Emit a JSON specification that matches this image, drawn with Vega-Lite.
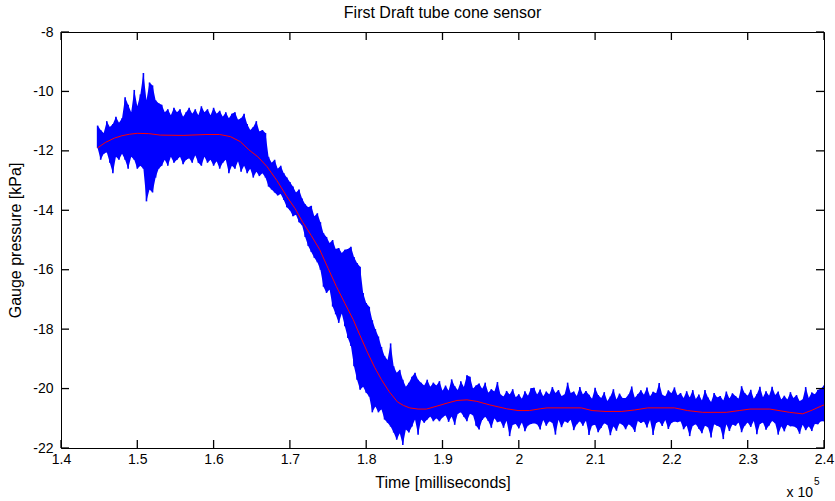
{
  "$schema": "https://vega.github.io/schema/vega-lite/v6.json",
  "width": 763,
  "height": 416,
  "autosize": {"type": "none"},
  "padding": {"left": 61, "top": 32, "right": 11, "bottom": 53},
  "background": "white",
  "config": {
    "view": {"stroke": null},
    "font": "Liberation Sans",
    "axis": {
      "grid": false,
      "ticks": false,
      "labelFont": "Liberation Sans",
      "labelFontSize": 14,
      "labelColor": "black",
      "domainColor": "black",
      "domainWidth": 1,
      "titleFont": "Liberation Sans",
      "titleFontSize": 16,
      "titleFontWeight": "normal",
      "titleColor": "black"
    }
  },
  "title": {"text": "First Draft tube cone sensor", "font": "Liberation Sans", "fontSize": 16, "fontWeight": "normal", "color": "black", "offset": 4, "anchor": "middle"},
  "datasets": {
    "xticks": [{"v":1.4},{"v":1.5},{"v":1.6},{"v":1.7},{"v":1.8},{"v":1.9},{"v":2.0},{"v":2.1},{"v":2.2},{"v":2.3},{"v":2.4}],
    "yticks": [{"v":-22},{"v":-20},{"v":-18},{"v":-16},{"v":-14},{"v":-12},{"v":-10},{"v":-8}],
    "signal": [
      {"t":1.448,"lo":-11.9,"hi":-11.15},{"t":1.452,"lo":-12.3,"hi":-11.3},{"t":1.456,"lo":-12.1,"hi":-11.4},{"t":1.46,"lo":-12.05,"hi":-11.0},
      {"t":1.464,"lo":-12.4,"hi":-11.2},{"t":1.468,"lo":-12.75,"hi":-11.1},{"t":1.472,"lo":-12.2,"hi":-10.85},{"t":1.476,"lo":-12.3,"hi":-11.05},
      {"t":1.48,"lo":-12.1,"hi":-10.9},{"t":1.484,"lo":-12.3,"hi":-10.2},{"t":1.488,"lo":-12.6,"hi":-10.45},{"t":1.492,"lo":-12.2,"hi":-10.7},
      {"t":1.496,"lo":-12.3,"hi":-9.95},{"t":1.5,"lo":-12.6,"hi":-10.5},{"t":1.504,"lo":-12.5,"hi":-10.1},{"t":1.508,"lo":-12.6,"hi":-9.38},
      {"t":1.512,"lo":-13.7,"hi":-10.3},{"t":1.516,"lo":-13.3,"hi":-9.7},{"t":1.52,"lo":-13.4,"hi":-9.8},{"t":1.524,"lo":-12.9,"hi":-10.3},
      {"t":1.528,"lo":-12.6,"hi":-10.4},{"t":1.532,"lo":-12.5,"hi":-10.45},{"t":1.536,"lo":-12.3,"hi":-10.7},{"t":1.54,"lo":-12.5,"hi":-10.6},
      {"t":1.544,"lo":-12.2,"hi":-10.8},{"t":1.548,"lo":-12.4,"hi":-10.55},{"t":1.552,"lo":-12.3,"hi":-10.7},{"t":1.556,"lo":-12.2,"hi":-10.6},
      {"t":1.56,"lo":-12.45,"hi":-10.85},{"t":1.564,"lo":-12.3,"hi":-10.7},{"t":1.568,"lo":-12.25,"hi":-10.55},{"t":1.572,"lo":-12.4,"hi":-10.75},
      {"t":1.576,"lo":-12.15,"hi":-10.6},{"t":1.58,"lo":-12.4,"hi":-10.8},{"t":1.584,"lo":-12.5,"hi":-10.5},{"t":1.588,"lo":-12.2,"hi":-10.7},
      {"t":1.592,"lo":-12.4,"hi":-10.6},{"t":1.596,"lo":-12.3,"hi":-10.8},{"t":1.6,"lo":-12.5,"hi":-10.55},{"t":1.604,"lo":-12.35,"hi":-10.75},
      {"t":1.608,"lo":-12.6,"hi":-10.65},{"t":1.612,"lo":-12.4,"hi":-10.85},{"t":1.616,"lo":-12.3,"hi":-10.7},{"t":1.62,"lo":-12.75,"hi":-10.9},
      {"t":1.624,"lo":-12.5,"hi":-10.75},{"t":1.628,"lo":-12.6,"hi":-10.7},{"t":1.632,"lo":-12.35,"hi":-10.95},{"t":1.636,"lo":-12.7,"hi":-10.9},
      {"t":1.64,"lo":-12.5,"hi":-10.75},{"t":1.644,"lo":-12.75,"hi":-11.1},{"t":1.648,"lo":-12.6,"hi":-11.3},{"t":1.652,"lo":-12.9,"hi":-11.2},
      {"t":1.656,"lo":-12.7,"hi":-11.0},{"t":1.66,"lo":-12.85,"hi":-11.35},{"t":1.664,"lo":-12.75,"hi":-11.3},{"t":1.668,"lo":-12.9,"hi":-11.4},
      {"t":1.672,"lo":-13.2,"hi":-12.2},{"t":1.676,"lo":-13.3,"hi":-12.4},{"t":1.68,"lo":-13.4,"hi":-12.3},{"t":1.684,"lo":-13.5,"hi":-12.6},
      {"t":1.688,"lo":-13.45,"hi":-12.5},{"t":1.692,"lo":-13.65,"hi":-12.75},{"t":1.696,"lo":-13.9,"hi":-12.9},{"t":1.7,"lo":-14.0,"hi":-13.05},
      {"t":1.704,"lo":-14.2,"hi":-13.2},{"t":1.708,"lo":-14.15,"hi":-13.4},{"t":1.712,"lo":-14.4,"hi":-13.3},{"t":1.716,"lo":-14.5,"hi":-13.6},
      {"t":1.72,"lo":-14.9,"hi":-13.8},{"t":1.724,"lo":-15.2,"hi":-13.9},{"t":1.728,"lo":-15.4,"hi":-13.85},{"t":1.732,"lo":-15.6,"hi":-14.2},
      {"t":1.736,"lo":-15.75,"hi":-14.1},{"t":1.74,"lo":-16.0,"hi":-14.4},{"t":1.744,"lo":-16.57,"hi":-14.77},{"t":1.748,"lo":-16.78,"hi":-14.9},
      {"t":1.752,"lo":-16.67,"hi":-15.1},{"t":1.756,"lo":-17.24,"hi":-15.0},{"t":1.76,"lo":-17.5,"hi":-15.3},{"t":1.764,"lo":-17.79,"hi":-15.27},
      {"t":1.768,"lo":-17.47,"hi":-15.44},{"t":1.772,"lo":-17.9,"hi":-15.33},{"t":1.776,"lo":-18.3,"hi":-15.3},{"t":1.78,"lo":-18.57,"hi":-15.23},
      {"t":1.784,"lo":-19.25,"hi":-15.57},{"t":1.788,"lo":-19.7,"hi":-15.77},{"t":1.792,"lo":-20.04,"hi":-15.9},{"t":1.796,"lo":-19.94,"hi":-16.78},
      {"t":1.8,"lo":-20.14,"hi":-17.12},{"t":1.804,"lo":-20.27,"hi":-17.25},{"t":1.808,"lo":-20.8,"hi":-17.7},{"t":1.812,"lo":-20.6,"hi":-18.0},
      {"t":1.816,"lo":-20.8,"hi":-18.25},{"t":1.82,"lo":-20.7,"hi":-18.6},{"t":1.824,"lo":-21.04,"hi":-18.9},{"t":1.828,"lo":-21.15,"hi":-19.04},
      {"t":1.832,"lo":-21.28,"hi":-18.48},{"t":1.836,"lo":-21.48,"hi":-19.25},{"t":1.84,"lo":-21.72,"hi":-19.47},{"t":1.844,"lo":-21.5,"hi":-19.37},
      {"t":1.848,"lo":-21.9,"hi":-19.7},{"t":1.852,"lo":-21.38,"hi":-19.94},{"t":1.856,"lo":-21.48,"hi":-19.8},{"t":1.86,"lo":-21.28,"hi":-19.6},
      {"t":1.864,"lo":-21.04,"hi":-19.47},{"t":1.868,"lo":-21.55,"hi":-19.7},{"t":1.872,"lo":-21.04,"hi":-19.8},{"t":1.876,"lo":-21.15,"hi":-19.9},
      {"t":1.88,"lo":-21.04,"hi":-19.7},{"t":1.884,"lo":-20.94,"hi":-19.94},{"t":1.888,"lo":-21.1,"hi":-19.8},{"t":1.892,"lo":-21.0,"hi":-19.9},
      {"t":1.896,"lo":-21.1,"hi":-19.75},{"t":1.9,"lo":-20.97,"hi":-20.07},{"t":1.904,"lo":-20.9,"hi":-19.9},{"t":1.908,"lo":-21.12,"hi":-20.07},
      {"t":1.912,"lo":-20.94,"hi":-19.69},{"t":1.916,"lo":-21.22,"hi":-19.92},{"t":1.92,"lo":-20.85,"hi":-20.05},{"t":1.924,"lo":-20.8,"hi":-19.75},
      {"t":1.928,"lo":-20.95,"hi":-19.95},{"t":1.932,"lo":-21.1,"hi":-19.55},{"t":1.936,"lo":-20.85,"hi":-19.6},{"t":1.94,"lo":-20.9,"hi":-20.0},
      {"t":1.944,"lo":-21.25,"hi":-19.9},{"t":1.948,"lo":-21.38,"hi":-19.83},{"t":1.952,"lo":-21.06,"hi":-20.01},{"t":1.956,"lo":-20.95,"hi":-19.8},
      {"t":1.96,"lo":-21.09,"hi":-20.14},{"t":1.964,"lo":-21.32,"hi":-20.02},{"t":1.968,"lo":-21.0,"hi":-20.1},{"t":1.972,"lo":-21.13,"hi":-19.78},
      {"t":1.976,"lo":-21.1,"hi":-20.2},{"t":1.98,"lo":-21.32,"hi":-20.27},{"t":1.984,"lo":-21.08,"hi":-20.08},{"t":1.988,"lo":-21.6,"hi":-20.2},
      {"t":1.992,"lo":-21.22,"hi":-20.02},{"t":1.996,"lo":-21.19,"hi":-20.29},{"t":2.0,"lo":-21.34,"hi":-20.19},{"t":2.004,"lo":-21.14,"hi":-20.34},
      {"t":2.008,"lo":-21.44,"hi":-20.09},{"t":2.012,"lo":-21.24,"hi":-20.24},{"t":2.016,"lo":-21.19,"hi":-19.99},{"t":2.02,"lo":-21.17,"hi":-19.97},
      {"t":2.024,"lo":-21.2,"hi":-20.2},{"t":2.028,"lo":-21.38,"hi":-20.03},{"t":2.032,"lo":-21.06,"hi":-20.26},{"t":2.036,"lo":-21.25,"hi":-20.1},
      {"t":2.04,"lo":-21.1,"hi":-20.2},{"t":2.044,"lo":-21.15,"hi":-19.95},{"t":2.048,"lo":-21.55,"hi":-20.15},{"t":2.052,"lo":-21.05,"hi":-20.05},
      {"t":2.056,"lo":-21.3,"hi":-20.25},{"t":2.06,"lo":-21.1,"hi":-20.2},{"t":2.064,"lo":-21.15,"hi":-19.8},{"t":2.068,"lo":-21.05,"hi":-20.15},
      {"t":2.072,"lo":-21.4,"hi":-20.1},{"t":2.076,"lo":-21.2,"hi":-20.25},{"t":2.08,"lo":-21.1,"hi":-19.95},{"t":2.084,"lo":-21.25,"hi":-20.2},
      {"t":2.088,"lo":-21.08,"hi":-20.08},{"t":2.092,"lo":-21.56,"hi":-20.21},{"t":2.096,"lo":-21.24,"hi":-20.34},{"t":2.1,"lo":-21.22,"hi":-19.97},
      {"t":2.104,"lo":-21.47,"hi":-20.22},{"t":2.108,"lo":-21.32,"hi":-20.32},{"t":2.112,"lo":-21.17,"hi":-20.12},{"t":2.116,"lo":-21.22,"hi":-20.42},
      {"t":2.12,"lo":-21.57,"hi":-20.27},{"t":2.124,"lo":-21.27,"hi":-20.02},{"t":2.128,"lo":-21.42,"hi":-20.37},{"t":2.132,"lo":-21.17,"hi":-20.17},
      {"t":2.136,"lo":-21.22,"hi":-20.32},{"t":2.14,"lo":-21.37,"hi":-20.32},{"t":2.144,"lo":-21.2,"hi":-20.2},{"t":2.148,"lo":-21.28,"hi":-19.93},
      {"t":2.152,"lo":-21.46,"hi":-20.31},{"t":2.156,"lo":-21.09,"hi":-20.19},{"t":2.16,"lo":-21.16,"hi":-20.06},{"t":2.164,"lo":-21.11,"hi":-20.21},
      {"t":2.168,"lo":-21.31,"hi":-19.96},{"t":2.172,"lo":-21.06,"hi":-20.26},{"t":2.176,"lo":-21.56,"hi":-20.11},{"t":2.18,"lo":-21.16,"hi":-20.16},
      {"t":2.184,"lo":-21.11,"hi":-19.81},{"t":2.188,"lo":-21.26,"hi":-20.21},{"t":2.192,"lo":-21.06,"hi":-20.26},{"t":2.196,"lo":-21.36,"hi":-20.06},
      {"t":2.2,"lo":-21.16,"hi":-20.16},{"t":2.204,"lo":-21.11,"hi":-19.96},{"t":2.208,"lo":-21.13,"hi":-20.23},{"t":2.212,"lo":-21.1,"hi":-20.15},
      {"t":2.216,"lo":-21.37,"hi":-20.32},{"t":2.22,"lo":-21.24,"hi":-20.09},{"t":2.224,"lo":-21.6,"hi":-20.3},{"t":2.228,"lo":-21.25,"hi":-20.05},
      {"t":2.232,"lo":-21.2,"hi":-20.35},{"t":2.236,"lo":-21.35,"hi":-20.2},{"t":2.24,"lo":-21.5,"hi":-20.4},{"t":2.244,"lo":-21.25,"hi":-20.05},
      {"t":2.248,"lo":-21.3,"hi":-20.3},{"t":2.252,"lo":-21.65,"hi":-20.45},{"t":2.256,"lo":-21.2,"hi":-20.15},{"t":2.26,"lo":-21.25,"hi":-20.3},
      {"t":2.264,"lo":-21.3,"hi":-20.25},{"t":2.268,"lo":-21.7,"hi":-20.4},{"t":2.272,"lo":-21.2,"hi":-20.1},{"t":2.276,"lo":-21.43,"hi":-20.33},
      {"t":2.28,"lo":-21.21,"hi":-20.16},{"t":2.284,"lo":-21.25,"hi":-20.25},{"t":2.288,"lo":-21.14,"hi":-20.34},{"t":2.292,"lo":-21.47,"hi":-19.92},
      {"t":2.296,"lo":-21.25,"hi":-20.15},{"t":2.3,"lo":-21.14,"hi":-20.24},{"t":2.304,"lo":-21.29,"hi":-20.04},{"t":2.308,"lo":-21.09,"hi":-20.34},
      {"t":2.312,"lo":-21.54,"hi":-20.19},{"t":2.316,"lo":-21.19,"hi":-19.94},{"t":2.32,"lo":-21.14,"hi":-20.29},{"t":2.324,"lo":-21.39,"hi":-20.09},
      {"t":2.328,"lo":-21.24,"hi":-20.24},{"t":2.332,"lo":-21.09,"hi":-19.94},{"t":2.336,"lo":-21.17,"hi":-20.22},{"t":2.34,"lo":-21.55,"hi":-20.1},
      {"t":2.344,"lo":-21.27,"hi":-20.37},{"t":2.348,"lo":-21.44,"hi":-20.24},{"t":2.352,"lo":-21.22,"hi":-20.37},{"t":2.356,"lo":-21.27,"hi":-20.12},
      {"t":2.36,"lo":-21.27,"hi":-20.32},{"t":2.364,"lo":-21.32,"hi":-20.22},{"t":2.368,"lo":-21.52,"hi":-20.42},{"t":2.372,"lo":-21.22,"hi":-20.37},
      {"t":2.376,"lo":-21.4,"hi":-19.95},{"t":2.38,"lo":-21.27,"hi":-20.32},{"t":2.384,"lo":-21.43,"hi":-20.13},{"t":2.388,"lo":-21.19,"hi":-20.19},
      {"t":2.392,"lo":-21.2,"hi":-20.05},{"t":2.396,"lo":-21.1,"hi":-20.0},{"t":2.4,"lo":-21.1,"hi":-19.9}
    ],
    "smooth": [
      {"t":1.448,"p":-11.9},{"t":1.458,"p":-11.72},{"t":1.47,"p":-11.57},{"t":1.48,"p":-11.49},{"t":1.49,"p":-11.44},
      {"t":1.5,"p":-11.41},{"t":1.515,"p":-11.42},{"t":1.53,"p":-11.47},{"t":1.56,"p":-11.48},{"t":1.59,"p":-11.45},
      {"t":1.608,"p":-11.45},{"t":1.622,"p":-11.52},{"t":1.635,"p":-11.69},{"t":1.646,"p":-11.96},{"t":1.658,"p":-12.2},
      {"t":1.67,"p":-12.53},{"t":1.683,"p":-13.0},{"t":1.696,"p":-13.54},{"t":1.707,"p":-13.95},{"t":1.717,"p":-14.41},
      {"t":1.728,"p":-14.85},{"t":1.739,"p":-15.32},{"t":1.75,"p":-15.95},{"t":1.761,"p":-16.57},{"t":1.772,"p":-17.13},
      {"t":1.783,"p":-17.68},{"t":1.792,"p":-18.22},{"t":1.802,"p":-18.8},{"t":1.811,"p":-19.28},{"t":1.82,"p":-19.7},
      {"t":1.83,"p":-20.1},{"t":1.841,"p":-20.45},{"t":1.849,"p":-20.57},{"t":1.857,"p":-20.65},{"t":1.868,"p":-20.69},
      {"t":1.879,"p":-20.69},{"t":1.894,"p":-20.58},{"t":1.906,"p":-20.49},{"t":1.919,"p":-20.4},{"t":1.932,"p":-20.38},
      {"t":1.945,"p":-20.43},{"t":1.962,"p":-20.55},{"t":1.984,"p":-20.68},{"t":1.999,"p":-20.74},{"t":2.014,"p":-20.74},
      {"t":2.028,"p":-20.68},{"t":2.037,"p":-20.65},{"t":2.054,"p":-20.65},{"t":2.082,"p":-20.65},{"t":2.096,"p":-20.74},
      {"t":2.113,"p":-20.77},{"t":2.135,"p":-20.77},{"t":2.152,"p":-20.72},{"t":2.169,"p":-20.65},{"t":2.204,"p":-20.65},
      {"t":2.221,"p":-20.74},{"t":2.241,"p":-20.8},{"t":2.272,"p":-20.8},{"t":2.289,"p":-20.74},{"t":2.303,"p":-20.69},
      {"t":2.329,"p":-20.69},{"t":2.355,"p":-20.8},{"t":2.372,"p":-20.85},{"t":2.385,"p":-20.72},{"t":2.397,"p":-20.58},
      {"t":2.4,"p":-20.55}
    ]
  },
  "layer": [
    {
      "data": {"name": "signal"},
      "mark": {"type": "area", "color": "#0000ff", "opacity": 1, "clip": true},
      "encoding": {
        "x": {"field": "t", "type": "quantitative",
              "scale": {"domain": [1.4, 2.4], "nice": false, "zero": false},
              "axis": {"orient": "bottom", "values": [1.4,1.5,1.6,1.7,1.8,1.9,2,2.1,2.2,2.3,2.4], "format": "~g",
                       "labelFlush": false, "labelOverlap": false, "labelPadding": 4,
                       "title": "Time [milliseconds]", "titlePadding": 8}},
        "y": {"field": "lo", "type": "quantitative",
              "scale": {"domain": [-22, -8], "nice": false, "zero": false},
              "axis": {"orient": "left", "values": [-22,-20,-18,-16,-14,-12,-10,-8], "labelExpr": "datum.value + ''",
                       "labelFlush": false, "labelOverlap": false, "labelPadding": 8,
                       "title": "Gauge pressure [kPa]", "titlePadding": 9}},
        "y2": {"field": "hi"}
      }
    },
    {
      "data": {"name": "signal"},
      "mark": {"type": "rule", "color": "#0000ff", "strokeWidth": 1.6, "clip": true},
      "encoding": {
        "x": {"field": "t", "type": "quantitative", "axis": null},
        "y": {"field": "lo", "type": "quantitative", "axis": null},
        "y2": {"field": "hi"}
      }
    },
    {
      "data": {"name": "smooth"},
      "mark": {"type": "line", "color": "#ff0000", "strokeWidth": 1, "clip": true},
      "encoding": {
        "x": {"field": "t", "type": "quantitative",
              "axis": {"orient": "top", "labels": false, "title": null, "values": [1.4, 2.4]}},
        "y": {"field": "p", "type": "quantitative",
              "axis": {"orient": "right", "labels": false, "title": null, "values": [-22, -8]}}
      }
    },
    {
      "data": {"name": "xticks"},
      "mark": {"type": "rule", "color": "black", "strokeWidth": 1.3},
      "encoding": {
        "x": {"field": "v", "type": "quantitative", "axis": null},
        "y": {"datum": -22, "type": "quantitative", "axis": null},
        "y2": {"datum": -21.73}
      }
    },
    {
      "data": {"name": "xticks"},
      "mark": {"type": "rule", "color": "black", "strokeWidth": 1.3},
      "encoding": {
        "x": {"field": "v", "type": "quantitative", "axis": null},
        "y": {"datum": -8, "type": "quantitative", "axis": null},
        "y2": {"datum": -8.27}
      }
    },
    {
      "data": {"name": "yticks"},
      "mark": {"type": "rule", "color": "black", "strokeWidth": 1.3},
      "encoding": {
        "y": {"field": "v", "type": "quantitative", "axis": null},
        "x": {"datum": 1.4, "type": "quantitative", "axis": null},
        "x2": {"datum": 1.4105}
      }
    },
    {
      "data": {"name": "yticks"},
      "mark": {"type": "rule", "color": "black", "strokeWidth": 1.3},
      "encoding": {
        "y": {"field": "v", "type": "quantitative", "axis": null},
        "x": {"datum": 2.4, "type": "quantitative", "axis": null},
        "x2": {"datum": 2.3895}
      }
    },
    {
      "data": {"values": [{"label": "x 10"}]},
      "mark": {"type": "text", "align": "right", "baseline": "alphabetic", "dx": -11, "dy": 49, "fontSize": 14, "font": "Liberation Sans", "color": "black"},
      "encoding": {
        "x": {"datum": 2.4, "type": "quantitative", "axis": null},
        "y": {"datum": -22, "type": "quantitative", "axis": null},
        "text": {"field": "label"}
      }
    },
    {
      "data": {"values": [{"label": "5"}]},
      "mark": {"type": "text", "align": "left", "baseline": "alphabetic", "dx": -10, "dy": 37, "fontSize": 10, "font": "Liberation Sans", "color": "black"},
      "encoding": {
        "x": {"datum": 2.4, "type": "quantitative", "axis": null},
        "y": {"datum": -22, "type": "quantitative", "axis": null},
        "text": {"field": "label"}
      }
    }
  ],
  "resolve": {"axis": {"x": "independent", "y": "independent"}}
}
